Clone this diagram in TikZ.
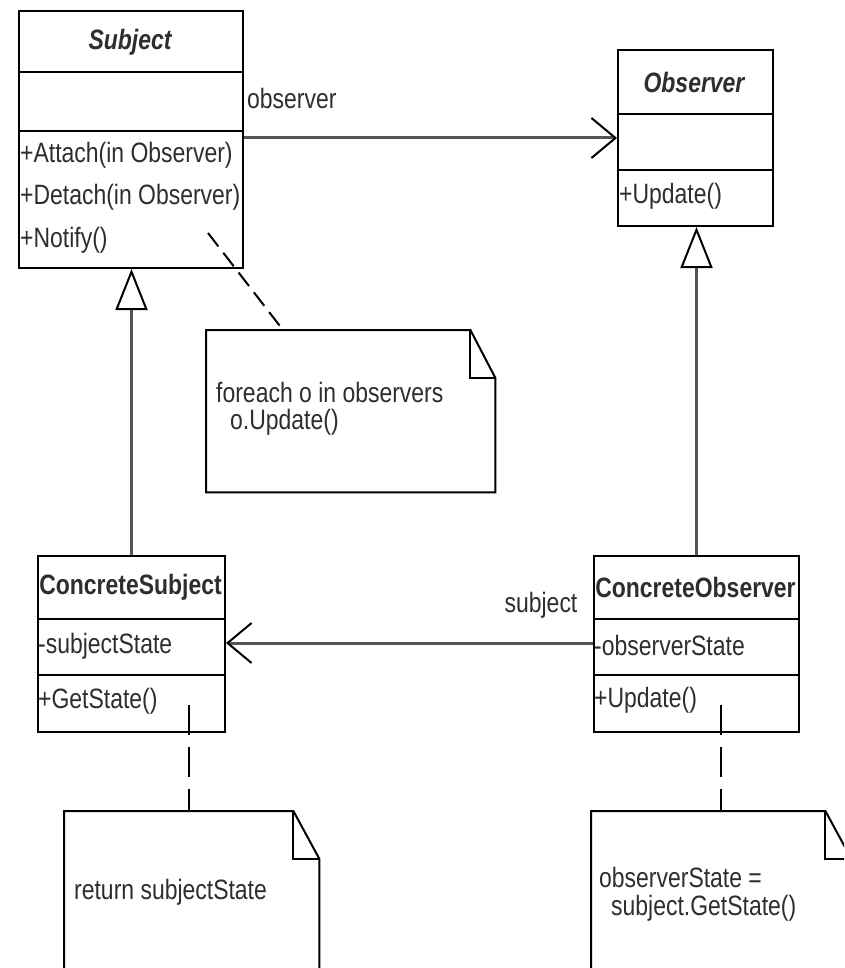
\documentclass[tikz,border=0pt]{standalone}
\usepackage{fontspec}
\setmainfont[FakeStretch=0.82]{Liberation Sans}
\usetikzlibrary{arrows.meta}
\definecolor{txt}{HTML}{2E2E2E}
\definecolor{conn}{HTML}{555555}
\tikzset{
  cls/.style={draw=black, line width=2pt, anchor=north west, inner sep=0pt, fill=white},
  sepline/.style={draw=black, line width=2pt},
  mem/.style={anchor=west, inner sep=0pt, font=\fontsize{28}{32}\selectfont, text=txt},
  ttl/.style={inner sep=0pt, font=\fontsize{28}{32}\selectfont\bfseries, text=txt},
  notebox/.style={anchor=north west, inner sep=0pt, draw=none},
  noteline/.style={draw=black, line width=2pt, line join=miter},
  assoc/.style={draw=conn, line width=3pt, -{Straight Barb[length=24pt, width=40pt, line width=2pt, color=black]}},
  gen/.style={draw=conn, line width=3pt, -{Triangle[open, length=41pt, width=32pt, line width=2pt, color=black]}},
  anchorline/.style={draw=black, line width=2pt, dash pattern=on 30pt off 12pt},
  anchordiag/.style={draw=black, line width=2pt, dash pattern=on 17pt off 8pt},
  lbl/.style={inner sep=0pt, font=\fontsize{28}{32}\selectfont, text=txt}
}
\begin{document}
\begin{tikzpicture}[x=1pt, y=-1pt]
\useasboundingbox (0,0) rectangle (844,968);
\clip (0,0) rectangle (844,968);
\fill[white] (0,0) rectangle (844,968);

% Subject
\node[cls, minimum width=224pt, minimum height=257pt] (subj) at (18,10) {};
\draw[sepline] ([yshift=-62pt]subj.north west) -- ([yshift=-62pt]subj.north east);
\draw[sepline] ([yshift=-121pt]subj.north west) -- ([yshift=-121pt]subj.north east);
\node[ttl, font=\fontsize{28}{32}\selectfont\bfseries\itshape] (subjt) at (130,42) {Subject};
\node[mem] (m1) at (20,155) {+Attach(in Observer)};
\node[mem] (m2) at (20,197) {+Detach(in Observer)};
\node[mem] (m3) at (20,240) {+Notify()};

% Observer
\node[cls, minimum width=155pt, minimum height=176pt] (obs) at (617,49) {};
\draw[sepline] ([yshift=-65pt]obs.north west) -- ([yshift=-65pt]obs.north east);
\draw[sepline] ([yshift=-121pt]obs.north west) -- ([yshift=-121pt]obs.north east);
\node[ttl, font=\fontsize{28}{32}\selectfont\bfseries\itshape] (obst) at (694,82) {Observer};
\node[mem] (o1) at (619,196) {+Update()};

% ConcreteSubject
\node[cls, minimum width=187pt, minimum height=176pt] (csub) at (37,555) {};
\draw[sepline] ([yshift=-64pt]csub.north west) -- ([yshift=-64pt]csub.north east);
\draw[sepline] ([yshift=-120pt]csub.north west) -- ([yshift=-120pt]csub.north east);
\node[ttl] (csubt) at (130.5,587) {ConcreteSubject};
\node[mem] (cs1) at (38,646) {-subjectState};
\node[mem] (cs2) at (38,701) {+GetState()};

% ConcreteObserver
\node[cls, minimum width=205pt, minimum height=176pt] (cobs) at (593,555) {};
\draw[sepline] ([yshift=-64pt]cobs.north west) -- ([yshift=-64pt]cobs.north east);
\draw[sepline] ([yshift=-120pt]cobs.north west) -- ([yshift=-120pt]cobs.north east);
\node[ttl] (cobst) at (695.5,587) {ConcreteObserver};
\node[mem] (co1) at (594,645) {-observerState};
\node[mem] (co2) at (594,700) {+Update()};

% Notes
\node[notebox, minimum width=289pt, minimum height=162pt] (note1) at (206,330) {};
\draw[noteline, fill=white] (note1.north west) -- ([xshift=-25pt]note1.north east) -- ([yshift=-48pt]note1.north east) -- (note1.south east) -- (note1.south west) -- cycle;
\draw[noteline] ([xshift=-25pt]note1.north east) -- ([xshift=-25pt, yshift=-48pt]note1.north east) -- ([yshift=-48pt]note1.north east);
\node[mem] (n1a) at (216,392) {foreach o in observers};
\node[mem] (n1b) at (230,422) {o.Update()};

\node[notebox, minimum width=255pt, minimum height=220pt] (note2) at (64,811) {};
\draw[noteline, fill=white] (note2.north west) -- ([xshift=-26pt]note2.north east) -- ([yshift=-48pt]note2.north east) -- (note2.south east) -- (note2.south west) -- cycle;
\draw[noteline] ([xshift=-26pt]note2.north east) -- ([xshift=-26pt, yshift=-48pt]note2.north east) -- ([yshift=-48pt]note2.north east);
\node[mem] (n2a) at (74,892) {return subjectState};

\node[notebox, minimum width=260pt, minimum height=220pt] (note3) at (591,811) {};
\draw[noteline, fill=white] (note3.north west) -- ([xshift=-26pt]note3.north east) -- ([yshift=-48pt]note3.north east) -- (note3.south east) -- (note3.south west) -- cycle;
\draw[noteline] ([xshift=-26pt]note3.north east) -- ([xshift=-26pt, yshift=-48pt]note3.north east) -- ([yshift=-48pt]note3.north east);
\node[mem] (n3a) at (599,877) {observerState =};
\node[mem] (n3b) at (611,908) {subject.GetState()};

% Associations
\draw[assoc] ([yshift=-128pt]subj.north east) -- ([yshift=-128pt]subj.north east -| obs.west);
\node[lbl, anchor=west] (lobs) at (247,98) {observer};
\draw[assoc] ([yshift=-88pt]cobs.north west) -- ([yshift=-88pt]cobs.north west -| csub.east);
\node[lbl] (lsub) at (541,605) {subject};

% Generalizations
\draw[gen] (csub.north) -- (csub.north |- subj.south);
\draw[gen] (cobs.north) -- (cobs.north |- obs.south);

% Note anchors
\coordinate (notifyend) at (208,233);
\coordinate (n1top) at ([xshift=77pt]note1.north west);
\draw[anchordiag] (notifyend) -- (n1top);
\coordinate (gsend) at (189,705);
\draw[anchorline] (gsend) -- (gsend |- note2.north);
\coordinate (upend) at (721,705);
\draw[anchorline] (upend) -- (upend |- note3.north);
\end{tikzpicture}
\end{document}
